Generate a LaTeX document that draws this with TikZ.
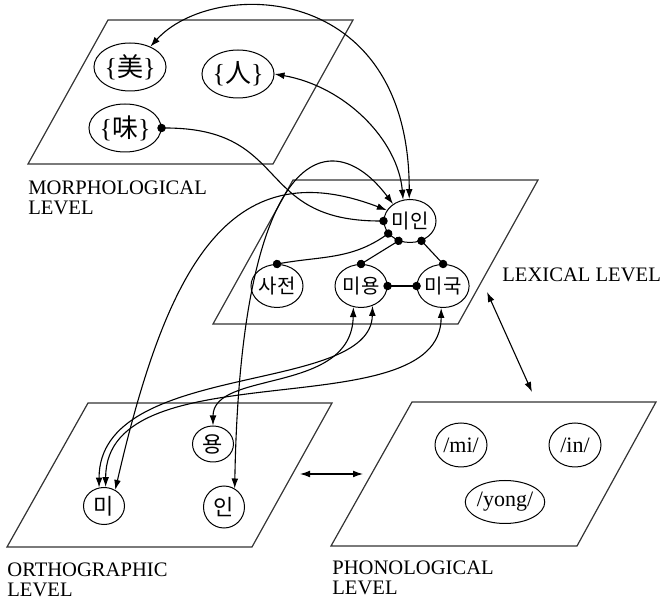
\documentclass[tikz,border=0pt]{standalone}
\usepackage{fontspec}
\setmainfont{Liberation Serif}
\newfontfamily\hangul{Noto Sans CJK KR}
\usetikzlibrary{shapes.geometric, arrows.meta, positioning}

\begin{document}
\begin{tikzpicture}[x=0.5pt, y=0.5pt,
            plane/.style={draw=black!80, line width=0.6pt},
            level label/.style={anchor=north west, inner sep=0pt, align=left,
                font=\fontsize{10.3}{10}\selectfont},
            unit node/.style={ellipse, draw, line width=0.5pt, inner sep=0pt},
            morph node/.style={unit node, minimum width=28.5pt, minimum height=24pt,
                font=\fontsize{13}{13}\selectfont},
            lex node/.style={unit node, minimum width=25.5pt, minimum height=21.5pt,
                font=\hangul\fontsize{10}{10}\selectfont},
            orth node/.style={unit node, minimum width=20.5pt, minimum height=18.5pt,
                font=\hangul\fontsize{11}{11}\selectfont},
            phon node/.style={unit node, minimum width=26pt, minimum height=22pt,
                font=\fontsize{11}{11}\selectfont},
            excite/.style={{Latex[length=5pt,width=3.4pt]}-{Latex[length=5pt,width=3.4pt]},
                line width=0.55pt},
            inhibit/.style={{Circle[length=4.2pt]}-{Circle[length=4.2pt]},
                shorten <=-2.1pt, shorten >=-2.1pt, line width=0.55pt}]

        \useasboundingbox (0,0) rectangle (664,-603);

        % the four levels
        \draw[plane] (108,-20) -- (353,-20) -- (273,-164) -- (28,-164) -- cycle;
        \draw[plane] (293,-180) -- (538,-180) -- (458,-324) -- (213,-324) -- cycle;
        \draw[plane] (88,-403) -- (332,-403) -- (252,-547) -- (7,-547) -- cycle;
        \draw[plane] (412,-402) -- (656,-402) -- (577,-546) -- (331,-546) -- cycle;

        \node[level label] (morph label) at (28,-180) {MORPHOLOGICAL\\LEVEL};
        \node[level label] (lex label) at (502,-267) {LEXICAL LEVEL};
        \node[level label] (orth label) at (7,-562) {ORTHOGRAPHIC\\LEVEL};
        \node[level label] (phon label) at (332,-560) {PHONOLOGICAL\\LEVEL};

        \node[morph node] (mei) at (130,-67) {\{{\hangul 美}\}};
        \node[morph node] (ren) at (238,-74) {\{{\hangul 人}\}};
        \node[morph node] (wei) at (125,-128) {\{{\hangul 味}\}};

        \node[lex node] (miin) at (410,-221) {미인};
        \node[lex node] (sajeon) at (277,-286) {사전};
        \node[lex node, right=15.5pt of sajeon] (miyong) {미용};
        \node[lex node, right=14.5pt of miyong] (miguk) {미국};

        \node[orth node] (mi-o) at (104,-506) {미};
        \node[orth node, minimum height=18pt] (yong-o) at (213,-444) {용};
        \node[orth node, minimum height=21pt] (in-o) at (224,-507) {인};

        \node[phon node] (mi-p) at (461,-445) {/mi/};
        \node[phon node] (in-p) at (575,-445) {/in/};
        \node[phon node, minimum width=28pt, minimum height=21.5pt] (yong-p) at (505,-502) {/yong/};

        \coordinate (lex corner) at (487,-292);
        \coordinate (phon top) at (532,-392);
        \coordinate (orth side) at (300,-474);
        \coordinate (phon side) at (363,-474);

        \draw[excite] (mei.45) to[out=48, in=90, out distance=46pt, in distance=110pt] (miin.92);
        \draw[excite] (ren.east) to[out=-10, in=95, out distance=36pt, in distance=30pt] (miin.108);
        \draw[inhibit] (wei.east) to[out=0, in=180, distance=65pt] (miin.west);

        \draw[inhibit] (miin.210) to[out=215, in=10] (sajeon.north);
        \draw[inhibit] (miin.240) -- (miyong.north);
        \draw[inhibit] (miin.300) -- (miguk.north);
        \draw[inhibit] (miyong.east) -- (miguk.west);

        \draw[excite] (mi-o.55) to[out=77, in=159, out distance=113pt, in distance=85pt] (miin.155);
        \draw[excite] (in-o.60) to[out=89, in=127, out distance=170pt, in distance=53pt] (miin.135);
        \draw[excite] (miyong.250) to[out=269, in=90, out distance=44pt, in distance=28pt] (yong-o.north);
        \draw[excite] (miyong.300) to[out=269, in=90, out distance=45pt, in distance=64pt] (mi-o.105);
        \draw[excite] (miguk.265) to[out=270, in=90, out distance=61pt, in distance=70pt] (mi-o.85);

        \draw[excite] (lex corner) -- (phon top);
        \draw[excite] (orth side) -- (phon side);

\end{tikzpicture}
\end{document}
